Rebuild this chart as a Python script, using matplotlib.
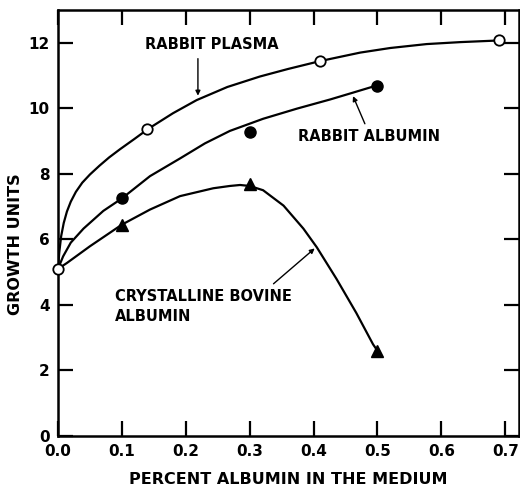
import numpy as np
import matplotlib.pyplot as plt

# measured points
plasma_x = [0.0, 0.14, 0.41, 0.69]
plasma_y = [5.1, 9.37, 11.44, 12.07]
albumin_x = [0.1, 0.3, 0.5]
albumin_y = [7.25, 9.28, 10.67]
bovine_x = [0.1, 0.3, 0.5]
bovine_y = [6.45, 7.68, 2.6]

# hand-drawn fitted curves
plasma_cx = [0.0, 0.002, 0.005, 0.009, 0.014, 0.02, 0.028, 0.038, 0.05, 0.065,
             0.08, 0.097, 0.12, 0.141, 0.18, 0.217, 0.265, 0.316, 0.36, 0.41,
             0.473, 0.52, 0.577, 0.63, 0.69]
plasma_cy = [5.1, 5.6, 6.1, 6.5, 6.85, 7.15, 7.45, 7.73, 7.98, 8.25,
             8.5, 8.75, 9.07, 9.37, 9.85, 10.25, 10.65, 10.97, 11.2, 11.44,
             11.7, 11.84, 11.96, 12.02, 12.07]
albumin_cx = [0.0, 0.008, 0.02, 0.04, 0.071, 0.1, 0.144, 0.191, 0.23, 0.269,
              0.321, 0.374, 0.426, 0.462, 0.496]
albumin_cy = [5.1, 5.48, 5.9, 6.33, 6.87, 7.25, 7.93, 8.47, 8.93, 9.31,
              9.68, 9.99, 10.27, 10.48, 10.68]
bovine_cx = [0.0, 0.014, 0.05, 0.1, 0.144, 0.191, 0.243, 0.269, 0.285, 0.3,
             0.321, 0.353, 0.384, 0.405, 0.436, 0.467, 0.493, 0.5]
bovine_cy = [5.1, 5.28, 5.79, 6.45, 6.91, 7.32, 7.56, 7.63, 7.66, 7.63,
             7.5, 7.03, 6.33, 5.76, 4.79, 3.75, 2.8, 2.6]

xticks = [0.0, 0.1, 0.2, 0.3, 0.4, 0.5, 0.6, 0.7]
yticks = [0, 2, 4, 6, 8, 10, 12]

plt.rcParams['font.family'] = 'DejaVu Sans'
plt.rcParams['font.weight'] = 'bold'

fig = plt.figure(figsize=(5.2, 4.92), dpi=100)
ax = fig.add_axes([0.1115, 0.1138, 0.8865, 0.8659])

lw = 1.6
ax.plot(plasma_cx, plasma_cy, color='black', lw=lw)
ax.plot(albumin_cx, albumin_cy, color='black', lw=lw)
ax.plot(bovine_cx, bovine_cy, color='black', lw=lw)

ax.plot(plasma_x, plasma_y, 'o', mfc='white', mec='black', mew=1.3, ms=7.5,
        zorder=5, clip_on=False)
ax.plot(albumin_x, albumin_y, 'o', color='black', ms=8, zorder=5)
ax.plot(bovine_x, bovine_y, '^', color='black', ms=8, zorder=5)

# labels and pointers
fs = 10.5
ax.text(0.241, 11.96, 'RABBIT PLASMA', fontsize=fs, fontweight='bold', ha='center', va='center')
ax.annotate('', xy=(0.219, 10.3), xytext=(0.219, 11.6),
            arrowprops=dict(arrowstyle='-|>', color='black', lw=1.0, mutation_scale=7))
ax.text(0.487, 9.14, 'RABBIT ALBUMIN', fontsize=fs, fontweight='bold', ha='center', va='center')
ax.annotate('', xy=(0.46, 10.45), xytext=(0.482, 9.45),
            arrowprops=dict(arrowstyle='-|>', color='black', lw=1.0, mutation_scale=7))
ax.text(0.089, 4.26, 'CRYSTALLINE BOVINE', fontsize=fs, fontweight='bold', ha='left', va='center')
ax.text(0.089, 3.65, 'ALBUMIN', fontsize=fs, fontweight='bold', ha='left', va='center')
ax.annotate('', xy=(0.405, 5.78), xytext=(0.334, 4.59),
            arrowprops=dict(arrowstyle='-|>', color='black', lw=1.0, mutation_scale=7))

# axes
ax.set_xlim(0, 0.7214)
ax.set_ylim(0, 13.0)
ax.set_xticks(xticks)
ax.set_xticklabels(['%.1f' % v for v in xticks])
ax.set_yticks(yticks)
ax.tick_params(direction='in', length=11, width=1.6, labelsize=11, pad=6,
               top=True, right=True)
for lab in ax.get_xticklabels() + ax.get_yticklabels():
    lab.set_fontweight('bold')
for sp in ax.spines.values():
    sp.set_linewidth(1.8)

ax.set_xlabel('PERCENT ALBUMIN IN THE MEDIUM', fontsize=11.5, fontweight='bold', labelpad=9)
ax.set_ylabel('GROWTH UNITS', fontsize=11.5, fontweight='bold')
ax.yaxis.set_label_coords(-0.075, 0.45)

fig.savefig('out.png', dpi=100)
